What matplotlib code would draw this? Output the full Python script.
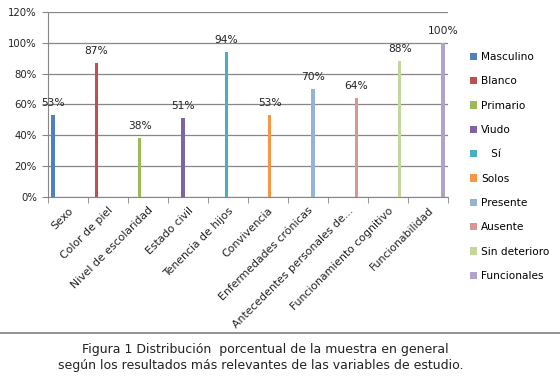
import numpy as np
import matplotlib.pyplot as plt
from matplotlib.lines import Line2D

categories = ['Sexo', 'Color de piel', 'Nivel de escolaridad', 'Estado civil',
              'Tenencia de hijos', 'Convivencia', 'Enfermedades crónicas',
              'Antecedentes personales de...', 'Funcionamiento cognitivo',
              'Funcionabilidad']
series = ['Masculino', 'Blanco', 'Primario', 'Viudo', '   Sí', 'Solos',
          'Presente', 'Ausente', 'Sin deterioro', 'Funcionales']
values = [53, 87, 38, 51, 94, 53, 70, 64, 88, 100]
colors = ['#4F81BD', '#C0504D', '#9BBB59', '#8064A2', '#4BACC6', '#F79646',
          '#95B3D7', '#D99694', '#C3D69B', '#B3A2C7']

fs = 7.3
grey = '#868686'

fig = plt.figure(figsize=(5.6, 3.84), dpi=100)
ax = fig.add_axes([48/560, 1 - 197/384, 400/560, 185/384])

# Excel-style clustered bars: 10 series per category, only one is non-zero
w = 3.35 / 40
handles = []
for i, (v, c, s) in enumerate(zip(values, colors, series)):
    x = i - 0.5 + (5 + i * 3.35) / 40
    b = ax.bar(x, v / 100, width=w, color=c, label=s, zorder=3)
    handles.append(b)
    ax.annotate(f'{v}%', (x, v / 100), xytext=(0, 5), textcoords='offset points',
                ha='center', va='bottom', fontsize=7.7, color='#222222')

ax.set_xlim(-0.5, 9.5)
ax.set_ylim(0, 1.2)
ax.set_yticks(np.arange(0, 1.21, 0.2))
ax.set_yticklabels([f'{int(round(t*100))}%' for t in np.arange(0, 1.21, 0.2)])
ax.yaxis.grid(True, color=grey, linewidth=0.9, zorder=0)

ax.set_xticks(range(10))
ax.set_xticklabels(categories, rotation=45, ha='right', rotation_mode='anchor')
ax.set_xticks(np.arange(-0.5, 9.6, 1), minor=True)
ax.tick_params(axis='x', which='major', length=0, pad=6, labelsize=7.8, colors='#222222')
ax.tick_params(axis='x', which='minor', length=4, color=grey)
ax.tick_params(axis='y', length=4, color=grey, pad=4, labelsize=fs, labelcolor='#222222')

for sp in ['top', 'right']:
    ax.spines[sp].set_visible(False)
for sp in ['left', 'bottom']:
    ax.spines[sp].set_color(grey)

fig.legend(handles=handles, loc='upper left', bbox_to_anchor=(470/560, 1 - 52/384),
           frameon=False, fontsize=7.6, handlelength=0.7, handleheight=0.7,
           handletextpad=0.35, labelspacing=1.36, borderpad=0, borderaxespad=0)

fig.add_artist(Line2D([0, 1], [1 - 333/384] * 2, transform=fig.transFigure,
                      color='#808080', linewidth=1.2))
fig.text(265/560, 1 - 350/384, 'Figura 1 Distribución  porcentual de la muestra en general',
         ha='center', va='center', fontsize=9, color='#222222')
fig.text(261/560, 1 - 366/384, 'según los resultados más relevantes de las variables de estudio.',
         ha='center', va='center', fontsize=9, color='#222222')

fig.savefig('out.png', dpi=100)
